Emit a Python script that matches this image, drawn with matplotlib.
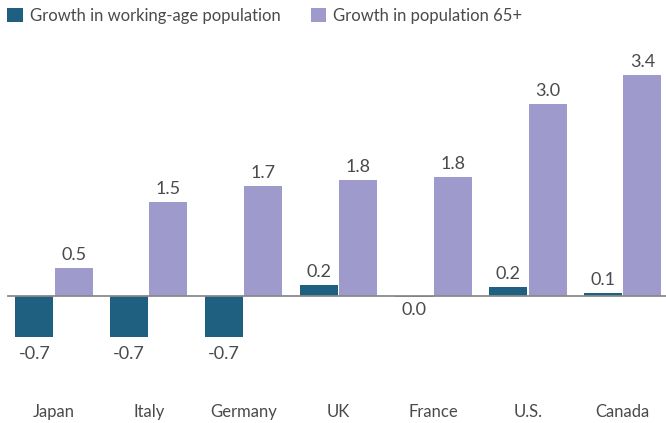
import matplotlib
matplotlib.use("Agg")
import matplotlib.pyplot as plt
import numpy as np

countries = ["Japan", "Italy", "Germany", "UK", "France", "U.S.", "Canada"]
# bar heights, labels as printed
working_age = [-0.64, -0.64, -0.64, 0.17, -0.01, 0.14, 0.04]
pop_65 = [0.44, 1.45, 1.70, 1.80, 1.84, 2.98, 3.43]
wa_labels = ["-0.7", "-0.7", "-0.7", "0.2", "0.0", "0.2", "0.1"]
p65_labels = ["0.5", "1.5", "1.7", "1.8", "1.8", "3.0", "3.4"]

dark = "#1f5f80"
purple = "#9e9acc"
txt = "#4a4a4a"

plt.rcParams["font.family"] = ["Lato", "DejaVu Sans"]

fig = plt.figure(figsize=(6.66, 4.23), dpi=100)
ax = fig.add_axes([0, 0, 1, 1])

x = np.arange(len(countries))
w = 0.40
off = 0.207
b1 = ax.bar(x - off, working_age, w, color=dark, label="Growth in working-age population")
b2 = ax.bar(x + off, pop_65, w, color=purple, label="Growth in population 65+")

ax.set_xlim(-0.57, 6.456)
ax.set_ylim(-1.969, 4.589)
ax.axhline(0, xmin=8 / 666, xmax=1, color="#8a8a8a", lw=1.3, zorder=3)

for rect, v, s in zip(b1, working_age, wa_labels):
    cx = rect.get_x() + rect.get_width() / 2
    if v > 0:
        ax.annotate(s, (cx, v), xytext=(0, 8), textcoords="offset pixels",
                    ha="center", va="baseline", fontsize=13, color=txt)
    else:
        dy = -5 if abs(v) < 0.05 else -9
        ax.annotate(s, (cx, v), xytext=(0, dy), textcoords="offset pixels",
                    ha="center", va="top", fontsize=13, color=txt)

for rect, v, s in zip(b2, pop_65, p65_labels):
    cx = rect.get_x() + rect.get_width() / 2
    ax.annotate(s, (cx, v), xytext=(0, 8), textcoords="offset pixels",
                ha="center", va="baseline", fontsize=13, color=txt)

for xi, name in zip(x, countries):
    ax.text(xi, -1.80, name, ha="center", va="center", fontsize=12, color=txt)

leg = ax.legend(loc="upper left", bbox_to_anchor=(0.0, 1.0), ncol=2, frameon=False,
                handlelength=0.9, handleheight=0.9, handletextpad=0.45,
                columnspacing=1.8, fontsize=12, borderaxespad=0.15,
                borderpad=0.3)
for t in leg.get_texts():
    t.set_color(txt)

ax.axis("off")
fig.savefig("out.png", dpi=100)
